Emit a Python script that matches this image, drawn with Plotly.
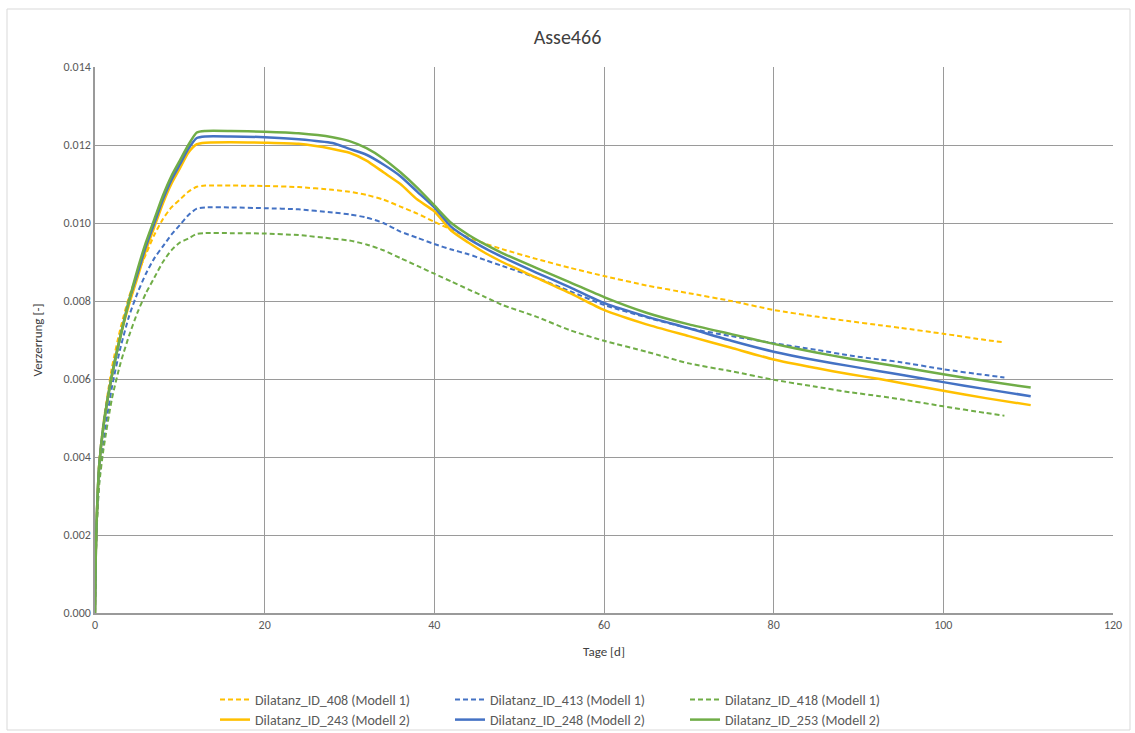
import plotly.graph_objects as go

# ---- data ----
x_rise = [0, 0.1, 0.25, 0.5, 1, 2, 3, 4, 5, 6, 7, 8, 9, 10, 11, 12, 13, 16, 20, 24, 28, 30, 32, 34, 36, 38,
          40, 42, 44, 46, 48, 52, 56, 60, 65, 70, 75, 80, 85, 89, 92.5, 95, 100, 105]
x_end_m1 = 107.2
x_end_m2 = 110.3

id408 = [0, 0.0017, 0.0028, 0.0039, 0.0049, 0.0063, 0.0073, 0.0081, 0.0087, 0.0092, 0.0097, 0.0101, 0.0104,
         0.0106, 0.0108, 0.01093, 0.01096, 0.01096, 0.01095, 0.01092, 0.01085, 0.0108, 0.01072, 0.0106,
         0.01042, 0.01024, 0.01003, 0.00983, 0.00963, 0.00947, 0.00933, 0.00908, 0.00885, 0.00864, 0.0084,
         0.0082, 0.0080, 0.00777, 0.0076, 0.00748, 0.00738, 0.00731, 0.00716, 0.0070, 0.00694]
id413 = [0, 0.0015, 0.0025, 0.0034, 0.0044, 0.0058, 0.0068, 0.0076, 0.0082, 0.0087, 0.0091, 0.0094, 0.0097,
         0.00995, 0.0102, 0.01037, 0.0104, 0.0104, 0.01038, 0.01035, 0.01027, 0.01022, 0.01014, 0.01,
         0.00978, 0.00962, 0.00946, 0.00932, 0.0092, 0.00905, 0.0089, 0.0086, 0.00825, 0.0079, 0.00758,
         0.0073, 0.0071, 0.00692, 0.00675, 0.0066, 0.0065, 0.00643, 0.00625, 0.0061, 0.00604]
id418 = [0, 0.0014, 0.0024, 0.0033, 0.0042, 0.0055, 0.0064, 0.0071, 0.0077, 0.0082, 0.0086, 0.0090, 0.0093,
         0.0095, 0.0096, 0.00972, 0.00974, 0.00974, 0.00973, 0.00969, 0.0096, 0.00955, 0.00945, 0.0093,
         0.0091, 0.0089, 0.0087, 0.0085, 0.0083, 0.0081, 0.0079, 0.0076, 0.00725, 0.00698, 0.0067,
         0.0064, 0.0062, 0.00598, 0.0058, 0.00566, 0.00556, 0.00548, 0.0053, 0.00513, 0.00506]
id243 = [0, 0.0016, 0.0027, 0.0038, 0.0048, 0.0061, 0.0071, 0.0079, 0.0086, 0.0093, 0.0099, 0.0105, 0.0110,
         0.0114, 0.0118, 0.01202, 0.01206, 0.01207, 0.01206, 0.01203, 0.0119, 0.0118, 0.0116, 0.0113,
         0.0110, 0.0106, 0.0103, 0.0098, 0.0095, 0.00923, 0.0090, 0.0086, 0.0082, 0.00777, 0.0074,
         0.0071, 0.0068, 0.0065, 0.00628, 0.00612, 0.0060, 0.0059, 0.0057, 0.00551, 0.00533]
id248 = [0, 0.0016, 0.0027, 0.0038, 0.0048, 0.0061, 0.0071, 0.0080, 0.0087, 0.0094, 0.0100, 0.0106, 0.0111,
         0.0115, 0.0119, 0.01218, 0.01222, 0.01222, 0.0122, 0.01215, 0.01205, 0.0119, 0.01175, 0.0115,
         0.0112, 0.0108, 0.0104, 0.0099, 0.0096, 0.00935, 0.00913, 0.00873, 0.00835, 0.00795, 0.0076,
         0.0073, 0.00698, 0.0067, 0.00648, 0.00633, 0.0062, 0.00611, 0.00592, 0.00574, 0.00556]
id253 = [0, 0.0016, 0.0027, 0.0038, 0.0048, 0.0061, 0.0071, 0.0080, 0.0088, 0.0095, 0.0101, 0.0107, 0.0112,
         0.0116, 0.0120, 0.01232, 0.01236, 0.01236, 0.01234, 0.0123, 0.0122, 0.0121, 0.01192, 0.01165,
         0.0113, 0.0109, 0.01045, 0.0100, 0.0097, 0.00945, 0.00923, 0.00885, 0.00848, 0.0081, 0.0077,
         0.0074, 0.00715, 0.0069, 0.00668, 0.00652, 0.0064, 0.00631, 0.00612, 0.00595, 0.00578]

x_m1 = x_rise + [x_end_m1]
x_m2 = x_rise + [x_end_m2]

names = ["Dilatanz_ID_408 (Modell 1)", "Dilatanz_ID_413 (Modell 1)", "Dilatanz_ID_418 (Modell 1)",
         "Dilatanz_ID_243 (Modell 2)", "Dilatanz_ID_248 (Modell 2)", "Dilatanz_ID_253 (Modell 2)"]
colors = ["#FFC000", "#4472C4", "#70AD47"]

x_ticks = [0, 20, 40, 60, 80, 100, 120]
y_ticks = [0.000, 0.002, 0.004, 0.006, 0.008, 0.010, 0.012, 0.014]

FONT = "Calibri, Carlito, Lato, sans-serif"

fig = go.Figure()
for i, ys in enumerate([id408, id413, id418]):
    fig.add_trace(go.Scatter(x=x_m1, y=ys, mode="lines", name=names[i], legend="legend",
                             line=dict(color=colors[i], width=2, dash="5px,3px",
                                       shape="spline", smoothing=0.6)))
for i, ys in enumerate([id243, id248, id253]):
    fig.add_trace(go.Scatter(x=x_m2, y=ys, mode="lines", name=names[3 + i], legend="legend2",
                             line=dict(color=colors[i], width=2.5, shape="spline", smoothing=0.6)))

W, H = 1135, 733
L, R, T, B = 95, 22, 67, 120
pw, ph = W - L - R, H - T - B


def px2x(p):
    return (p - L) / pw


def px2y(p):
    return (H - B - p) / ph


legend_common = dict(orientation="h", xref="container", yref="container", xanchor="center",
                     yanchor="middle", font=dict(family=FONT, size=14, color="#595959"),
                     bgcolor="rgba(0,0,0,0)", entrywidth=190, entrywidthmode="pixels",
                     itemwidth=30, tracegroupgap=0)

fig.update_layout(
    width=W, height=H,
    margin=dict(l=L, r=R, t=T, b=B),
    paper_bgcolor="white", plot_bgcolor="white",
    font=dict(family=FONT, color="#595959", size=12),
    title=dict(text="Asse466", x=0.5, xanchor="center", xref="container",
               y=1 - 37 / H, yanchor="middle", yref="container",
               font=dict(family=FONT, size=20, color="#404040")),
    showlegend=True,
    legend=dict(x=0.5, y=1 - 700 / H, **legend_common),
    legend2=dict(x=0.5, y=1 - 720 / H, **legend_common),
    xaxis=dict(range=[0, 120], tickvals=x_ticks, ticktext=[str(v) for v in x_ticks],
               showgrid=True, gridcolor="#9a9a9a", gridwidth=1.3,
               showline=True, linecolor="#9a9a9a", linewidth=1.5,
               zeroline=False, ticks="", tickfont=dict(size=12, color="#595959"),
               title=dict(text="Tage [d]", font=dict(size=13, color="#404040"), standoff=16)),
    yaxis=dict(range=[0, 0.014], tickvals=y_ticks, tickformat=".3f",
               showgrid=True, gridcolor="#9a9a9a", gridwidth=1.3,
               showline=True, linecolor="#9a9a9a", linewidth=1.5,
               zeroline=False, ticks="", tickfont=dict(size=12, color="#595959"),
               title=dict(text="Verzerrung [-]", font=dict(size=13, color="#404040"), standoff=18)),
)

# outer chart-area border
fig.add_shape(type="rect", xref="paper", yref="paper",
              x0=px2x(7), x1=px2x(1130), y0=px2y(730), y1=px2y(9),
              line=dict(color="#d9d9d9", width=1), fillcolor="rgba(0,0,0,0)", layer="below")

fig.write_html("out.html", config={"displayModeBar": False},
               post_script="document.body.style.margin='0';")
